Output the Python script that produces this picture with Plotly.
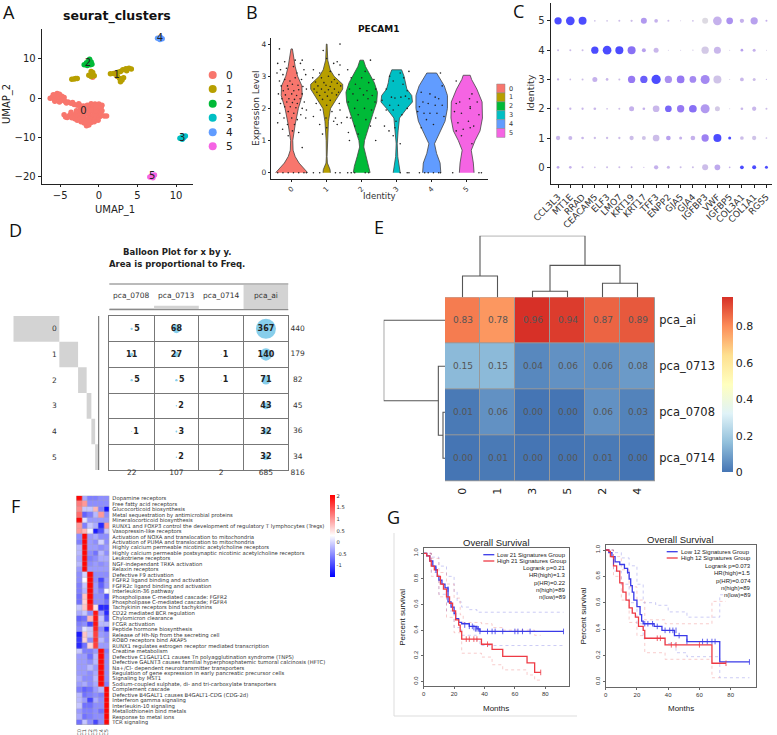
import plotly.graph_objects as go

W, H = 777, 735
SANS = "DejaVu Sans"
ARIAL = "Liberation Sans"
GG = ["#F8766D", "#B79F00", "#00BA38", "#00BFC4", "#619CFF", "#F564E3"]

# ---------- A: UMAP
umap_0 = [(-6.3,0),(-6,.3),(-5.8,-.3),(-5.6,.8),(-5.4,1.2),(-5.1,1),(-5.3,.2),(-5,-.3),(-4.8,.5),(-4.5,.2),(-4.6,-.5),(-5.1,-1),(-4.4,-.8),
 (-4,-1),(-3.6,-1.3),(-3.2,-1.6),(-2.8,-1.8),(-2.4,-1.9),(-2,-2),(-1.6,-2.2),(-4.5,-4.2),(-4.3,-4.8),(-3.8,-4.4),(-3.3,-4.6),(-3,-4),(-2.7,-4.6),
 (-2.4,-3.8),(-2,-4.8),(-1.8,-4),(-1.5,-3),(-1.2,-2),(-1,-1.4),(-.5,-1.5),(0,-1.5),(.4,-1.8),(-.7,-2.5),(-.2,-2.6),(.2,-2.8),(-1.2,-3.4),(-.7,-3.5),
 (-.2,-3.7),(.2,-3.6),(-1.3,-4.4),(-.8,-4.5),(-.3,-4.6),(.1,-4.7),(-2.5,-5.3),(-2,-5.5),(-1.5,-5.3),(-1,-5.4),(-.5,-5.5),(-.1,-5.6),(-1.9,-6.3),
 (-1.5,-6.5),(-1,-6.2),(-1.6,-7),(-2.3,-6),(-1.5,-1.8),(.7,-4.5),(1,-4.5),(-3.6,-3.6),(-2.9,-3.2),(-2.4,-2.8),(-1.9,-3.3),(-.7,-2),(0,-2.1),(-.4,-3.1),(-.8,5.3),
 (-5.9,.9),(-5.7,-.8),(-4.2,-1.2),(-3.4,-1.1),(-2.6,-1.4),(-4.1,-4.9),(-3.5,-5),(-3.1,-5.2),(-2.8,-5.6),(-1.7,-5.9),(-1.2,-5.9),(-.6,-6),(-1.3,-6.8),(-2.1,-4.4),(-1.5,-3.8),(-1,-3),(-.4,-2.1),(.3,-2.3),(.4,-3.2),(.3,-4.2),(-2.2,-3.3),(-1.7,-2.6)]
umap_1 = [(-3.5,4.8),(-3.2,4.9),(-3,5),(-2.8,5),(-1.3,5.8),(-1,5.5),(-.8,6),(-.6,5.7),(-1,6.8),(-.8,6.5),(1.5,6.2),(1.9,6.3),(2.2,6.1),(2.5,6.6),
 (2.8,6.8),(3.1,7.2),(3.5,7.5),(3.9,7.6),(4.2,7.4),(3.6,7),(2.4,5.5),(2.7,5),(3,4.6),(2.8,4.2),(3.2,5.2)]
umap_2 = [(-1.9,8.5),(-1.6,9),(-1.3,9.6),(-1,9.2),(-1.5,8.3),(-1.1,8.5),(-1.3,8.9),(-.9,8.6),(-1.2,9.9)]
umap_3 = [(10.5,-10.2),(10.8,-10.4),(11,-10),(11.2,-9.6),(10.8,-9.8)]
umap_4 = [(7.6,15.2),(8,15.4),(8.2,15.1),(7.9,14.9)]
umap_5 = [(6.6,-20),(6.9,-19.6),(7.2,-19.5),(7,-20.2),(6.8,-19.9)]
umap_labels = [(-2,-3.3),(2.3,5.8),(-1.4,8.8),(10.8,-10.2),(7.9,15.1),(6.9,-19.9)]

# ---------- B: violins (level, half width)
vio_0 = [(0,.457),(.15,.33),(.3,.21),(.5,.1),(.7,.04),(1,.03),(1.2,.05),(1.5,.1),(2,.19),(2.4,.3),(2.7,.29),(3,.17),(3.3,.1),(3.6,.05),(3.85,.02)]
vio_1 = [(0,.105),(.1,.095),(.3,.02),(.5,.01),(1,.015),(1.3,.04),(1.6,.05),(2,.11),(2.3,.29),(2.6,.457),(2.75,.457),(3,.21),(3.2,.1),(3.5,.03),(4,.01)]
vio_2 = [(0,.24),(.2,.21),(.5,.13),(.8,.06),(1,.08),(1.4,.19),(1.8,.31),(2.2,.43),(2.5,.45),(2.8,.36),(3.1,.21),(3.3,.11),(3.5,.05)]
vio_3 = [(0,.1),(.2,.08),(.5,.03),(.9,.015),(1.3,.04),(1.7,.08),(2,.29),(2.2,.45),(2.4,.43),(2.6,.29),(2.8,.24),(3,.21),(3.2,.14)]
vio_4 = [(0,.26),(.3,.24),(.6,.14),(.9,.08),(1.2,.21),(1.6,.38),(2,.45),(2.4,.45),(2.7,.36),(3,.19),(3.1,.14)]
vio_5 = [(0,.21),(.3,.19),(.7,.13),(1,.24),(1.3,.38),(1.7,.45),(2.2,.44),(2.6,.29),(2.9,.14),(3.03,.1)]
pts_0 = [(-.35,3.85),(-.2,3.45),(-.4,3.4),(.1,3.5),(.3,3.5),(.25,3.4),(-.32,3.2),(-.15,3.25),(.05,3.3),(.35,3.2),(-.42,3.1),(-.25,3.05),(.15,3.1),(.4,3.05),(-.35,2.85),(-.2,2.9),(-.05,2.85),(.1,2.95),(.28,2.9),(-.3,2.7),(-.12,2.7),(.02,2.75),(.18,2.72),(.32,2.68),(-.24,2.55),(-.1,2.6),(.06,2.55),(.2,2.58),(.42,2.6),(-.38,2.45),(-.18,2.42),(0,2.45),(.14,2.4),(.3,2.45),(-.28,2.3),(-.08,2.3),(.08,2.28),(.24,2.3),(-.32,2.15),(-.14,2.2),(.02,2.18),(.16,2.15),(.36,2.2),(-.2,2.05),(-.04,2.05),(.12,2.02),(.3,2),(.42,1.95),(-.34,1.85),(-.1,1.9),(.06,1.85),(.26,1.8),(-.22,1.7),(0,1.7),(.16,1.65),(.4,1.7),(-.4,1.55),(-.12,1.5),(.08,1.5),(-.26,1.35),(.02,1.3),(.2,1.25),(-.1,1.15),(.3,.78),(-.4,0),(-.25,0),(-.1,0),(.05,0),(.2,0),(.35,0),(.42,0)]
pts_1 = [(.38,4),(-.1,3.8),(0,3.55),(.3,3.45),(.38,3.35),(.2,3.4),(-.38,3.2),(-.2,3.1),(.1,3.15),(.35,3.05),(-.4,2.95),(-.15,2.95),(.05,3),(.22,2.9),(-.32,2.82),(-.08,2.8),(.14,2.82),(.3,2.78),(-.25,2.7),(-.02,2.72),(.1,2.68),(.4,2.7),(-.36,2.6),(-.15,2.6),(.05,2.58),(.22,2.6),(-.28,2.5),(-.05,2.5),(.15,2.48),(.34,2.5),(-.2,2.4),(.02,2.38),(.28,2.42),(-.12,2.28),(.1,2.25),(-.3,2.15),(0,2.1),(.36,2.15),(-.18,1.95),(.15,1.9),(.38,1.95),(-.38,1.75),(-.02,1.7),(.25,1.7),(-.2,1.5),(.42,1.55),(.3,1.5),(0,1.4),(-.12,1.2),(.2,1.6),(-.38,0),(-.2,0),(.25,0),(.38,0)]
pts_2 = [(.25,3.5),(-.4,3.2),(.1,3.15),(-.3,2.95),(.35,2.9),(0,2.95),(-.18,2.75),(.2,2.8),(-.35,2.6),(-.05,2.62),(.15,2.55),(.4,2.6),(-.25,2.45),(.05,2.42),(.3,2.4),(-.12,2.25),(.18,2.3),(-.38,2.2),(.38,2.2),(-.2,2),(.08,2),(.28,1.95),(-.1,1.8),(-.42,1.72),(-.32,1.7),(.12,1.65),(.4,1.7),(.25,1.45),(-.2,1.45),(-.1,1.2),(.4,1),(-.38,1.25),(-.35,1),(-.4,0),(-.3,0),(-.2,0),(.1,0),(.2,0)]
pts_3 = [(.35,3.15),(.1,3.1),(-.2,3),(.2,2.95),(-.1,2.85),(.18,2.75),(-.3,2.6),(.3,2.55),(-.15,2.35),(-.05,2.32),(.12,2.35),(.25,2.38),(.35,2.3),(-.42,2.25),(-.2,2.1),(.05,2.1),(.3,2),(-.1,1.95),(-.3,1.95),(.15,1.8),(-.35,1.45),(-.02,1.6),(-.22,1.3),(-.1,1.15),(-.05,1.4),(.1,.9),(.1,0),(.3,0),(.35,0)]
pts_4 = [(.25,3.1),(.3,2.7),(-.3,2.5),(-.05,2.45),(.1,2.35),(-.25,2.2),(-.1,2.15),(.2,2.3),(-.35,2.05),(.1,2.1),(.3,2.1),(-.4,1.9),(-.22,1.85),(-.05,1.85),(.15,1.85),(.35,1.75),(-.15,1.65),(.05,1.5),(-.3,1.4),(-.35,0),(-.2,0),(-.1,0),(.05,0),(.2,0),(.25,0)]
pts_5 = [(-.3,2.85),(.15,2.45),(-.2,2.2),(-.3,2.15),(.08,2.3),(.1,2.05),(.3,2.2),(-.35,1.9),(.1,2),(-.15,1.85),(.35,1.8),(-.25,1.55),(.05,1.6),(.2,1.45),(-.1,1.35),(-.3,1.3),(.1,1.4),(-.15,1.15),(.15,.9),(-.4,0),(.35,0),(.42,0)]

# ---------- C: dot plot
genes = ["CCL3L3","MT1E","RRAD","CEACAM5","ELF3","LMO7","KRT19","KRT17","TFF3","ENPP2","GJA5","GJA4","IGFBP3","VWF","IGFBP5","COL3A1","COL1A1","RGS5"]
dot_size_5 = [7.3,8.7,8,1.7,1.7,2,2.3,6,3.7,2,1,1.7,6,8.7,6.7,4.3,7.3,2]
dot_col_5 = [1,1,1,.25,.25,.3,.3,.55,.4,.3,.2,.3,.05,.4,.6,.4,.5,.4]
dot_size_4 = [2,2,2,7.3,8.7,8,8,4,5,1,1,1.3,7.3,7,1,2.7,3,1]
dot_col_4 = [.3,.3,.3,1,1,1,.8,.5,.35,.2,.2,.2,.2,.35,.2,.5,.4,.2]
dot_size_3 = [2.3,1.7,2,5,2.7,2,7.3,7.3,9.3,7.3,7.7,6.7,9,8,1,3.7,3,1.3]
dot_col_3 = [.35,.3,.3,.4,.35,.3,.75,.9,1,.6,.75,.65,.65,.25,.2,.35,.3,.3]
dot_size_2 = [2.3,2.3,2.3,2.7,1.7,2,5,2.7,6.7,6.7,7.3,7.7,9,5,1,2.7,4.3,2]
dot_col_2 = [.35,.35,.35,.35,.3,.3,.4,.4,.35,.85,.75,.8,.55,.2,.2,.35,.35,.3]
dot_size_1 = [4.3,4,2.7,2.3,2.3,2.3,4.3,4,6.7,4.7,3,4.7,7.3,8,3,3.7,4.3,1.7]
dot_col_1 = [.35,.35,.35,.3,.3,.3,.3,.25,.3,.5,.4,.4,.7,1,1,.3,.25,.3]
dot_size_0 = [2.7,2.7,2,1.7,2,2,2,1.3,4.3,3,2,2,6,5.7,1.7,3.7,4,3]
dot_col_0 = [.45,.4,.35,.3,.3,.3,.3,.3,.4,.35,.3,.3,.3,.45,.4,1,1,1]

# ---------- D: balloon plot
balloon_cols = ["pca_0708","pca_0713","pca_0714","pca_ai"]
balloon_rows = ["0","1","2","3","4","5"]
freq_0708 = [5,11,5,0,1,0]
freq_0713 = [68,27,5,2,3,2]
freq_0714 = [0,1,1,0,0,0]
freq_ai = [367,140,71,43,32,32]
row_totals = [440,179,82,45,36,34]
col_totals = [22,107,2,685]
grand_total = 816

# ---------- E: clustered heatmap
e_cols = ["0","1","3","5","2","4"]
e_rows = ["pca_ai","pca_0713","pca_0708","pca_0714"]
e_ai = [.83,.78,.96,.94,.87,.89]
e_0713 = [.15,.15,.04,.06,.06,.08]
e_0708 = [.01,.06,0,0,.06,.03]
e_0714 = [0,.01,0,0,.01,0]
e_scale = ["#4575B4","#91BFDB","#E0F3F8","#FFFFBF","#FEE090","#FC8D59","#D73027"]
col_links = [(0,0,1,0,64),(2,0,3,0,18),(4,0,5,0,42),(2.5,18,4.5,42,96),(.5,64,3.5,96,185)]
row_links = [(2,0,3,0,6),(1,0,2.5,6,20),(0,0,1.75,20,184)]

# ---------- F: pathway heatmap
f_labels = ["Dopamine receptors","Free fatty acid receptors","Glucocorticoid biosynthesis","Metal sequestration by antimicrobial proteins","Mineralocorticoid biosynthesis",
"RUNX1 and FOXP3 control the development of regulatory T lymphocytes (Tregs)","Vasopressin-like receptors","Activation of NOXA and translocation to mitochondria","Activation of PUMA and translocation to mitochondria",
"Highly calcium permeable nicotinic acetylcholine receptors","Highly calcium permeable postsynaptic nicotinic acetylcholine receptors","Leukotriene receptors","NGF-independant TRKA activation","Relaxin receptors",
"Defective F9 activation","FGFR2 ligand binding and activation","FGFR2c ligand binding and activation","Interleukin-36 pathway","Phospholipase C-mediated cascade: FGFR2","Phospholipase C-mediated cascade; FGFR4",
"Tachykinin receptors bind tachykinins","CD22 mediated BCR regulation","Chylomicron clearance","FCGR activation","Peptide hormone biosynthesis","Release of Hh-Np from the secreting cell","ROBO receptors bind AKAP5",
"RUNX1 regulates estrogen receptor mediated transcription","Creatine metabolism","Defective C1GALT1C1 causes Tn polyagglutination syndrome (TNPS)","Defective GALNT3 causes familial hyperphosphatemic tumoral calcinosis (HFTC)",
"Na+/Cl- dependent neurotransmitter transporters","Regulation of gene expression in early pancreatic precursor cells","Signaling by MST1","Sodium-coupled sulphate, di- and tri-carboxylate transporters",
"Complement cascade","Defective B4GALT1 causes B4GALT1-CDG (CDG-2d)","Interferon gamma signaling","Interleukin-10 signaling","Metallothionein bind metals","Response to metal ions","TCR signaling"]
f_cols = ["C0","C1","C2","C3","C4","C5"]
f_values = [[2,-.3,-.6,-.6,-.5,-.5],[1.2,1,-.5,-.5,-.5,-.5],[1.1,-.1,-.1,.8,-.6,-1.4],[1.3,-.8,-.6,-.2,1,-.5],[2,.1,-.4,-.4,-.4,-.4],[1,-.6,-.1,-.3,-1.2,1],[1,.8,.2,-1.3,-.9,-.1],
[-.5,2,-.4,-.3,-.5,-.5],[-.6,2,-.4,-.5,0,-.5],[-.2,2,-.4,-.4,-.5,-.4],[-.2,2,-.5,-.7,-.2,-.5],[-.3,2,-.6,-.5,-.3,-.3],[-.2,2,-.5,-.4,-.5,-.4],[-.4,2,-.4,-.4,-.4,-.4],
[-.5,0,2,-.5,-.5,-.5],[-.5,.3,2,-.5,-1,-.4],[-.6,-.1,2,-.4,-.8,-.4],[-.6,-.2,2,-.4,-.6,.3],[-.7,.7,2,-.5,-.5,-.9],[-.7,.6,2,-.5,-.5,-.7],[-.1,.7,1.8,.5,-1.2,-1.2],
[-.3,-.1,-.5,1.9,-.4,-1.2],[-.8,-.7,.8,1.9,-.1,-.9],[-.6,-.5,-1,1.9,-.2,-.2],[-.5,.1,-.1,1.8,-.5,-1.2],[-1.3,.7,-.1,1.6,-.4,-.5],[-1.1,.6,-.5,1.7,-.2,-.5],[-1.2,-.7,.6,1.6,-.4,-.4],
[-.1,-.6,-.6,-.4,2,-.6],[-.4,-.4,-.7,-.2,2,-.5],[-.4,-.4,-.5,-.2,2,-.5],[-.4,-.4,-.2,-.4,2,-.5],[-.4,-.4,-.5,-.3,2,-.5],[-.3,-.5,-.5,-.2,2,-.5],[-.4,-.3,-.5,-.3,2,-.6],
[-.6,-.8,-.7,-.4,-.2,2],[-.2,-.7,-.6,-.5,-.6,2],[-.2,-.4,-1,-.3,-.5,2],[-.1,-.7,-.7,-.5,-.5,2],[-.4,-.6,-.6,-.5,-.7,2],[-.3,-.7,-.6,-.5,-.5,2],[-.7,-.1,-.5,-1,-.5,2]]

# ---------- G: survival
g1_low = [(0,1),(2,.98),(4,.94),(6,.9),(8,.87),(9,.82),(10,.79),(12,.76),(14,.73),(16,.62),(18,.58),(20,.53),(21,.49),(23,.46),(25,.45),(30,.43),(35,.41),(37,.39),(92,.39)]
g1_high = [(0,1),(2,.98),(4,.94),(5,.9),(7,.87),(9,.82),(11,.76),(13,.72),(15,.66),(17,.61),(19,.55),(21,.48),(23,.44),(24,.39),(25,.33),(38,.29),(45,.25),(52,.195),(68,.145),(73,.07),(77,.07)]
g1_low_up = [(0,1),(5,.97),(10,.9),(15,.82),(20,.7),(22,.62),(25,.58),(30,.56),(35,.54),(92,.54)]
g1_low_lo = [(0,1),(5,.85),(10,.68),(15,.55),(20,.42),(25,.36),(35,.32),(37,.28),(92,.28)]
g1_high_up = [(0,1),(5,.96),(10,.85),(15,.76),(20,.65),(24,.52),(26,.46),(38,.45),(45,.42),(52,.4),(73,.36),(77,.36)]
g1_high_lo = [(0,1),(5,.82),(10,.66),(15,.5),(20,.38),(25,.22),(38,.19),(45,.13),(52,.09),(68,.05),(73,.01),(77,.01)]
g1_low_cens_t = [8,16,27,30,32,33,34,35,36,37,42,45,47,52,60,62,65,70,92]
g1_low_cens_s = [.87,.72,.44,.43,.43,.42,.41,.41,.41,.39,.39,.39,.39,.39,.39,.39,.39,.39,.39]
g1_high_cens_t = [28,30,33,35,42,77]
g1_high_cens_s = [.33,.33,.33,.33,.29,.07]
g1_text = ["Logrank p=0.21","HR(high)=1.3","p(HR)=0.22","n(high)=89","n(low)=89"]
g2_low = [(0,1),(2,.98),(4,.95),(6,.91),(9,.89),(12,.86),(14,.83),(15,.78),(16,.73),(17,.68),(18,.62),(20,.57),(22,.51),(23,.46),(24,.44),(31,.42),(36,.39),(44,.35),(52,.305),(73,.15),(92,.15)]
g2_high = [(0,1),(2,.99),(3,.95),(5,.88),(7,.84),(9,.75),(11,.68),(13,.62),(15,.56),(17,.52),(19,.49),(21,.42),(24,.39),(25,.33),(38,.28),(68,.14),(77,.14)]
g2_low_up = [(0,1),(5,.98),(10,.94),(15,.88),(20,.74),(24,.6),(32,.58),(40,.53),(52,.49),(73,.66),(76,.66)]
g2_low_lo = [(0,1),(5,.84),(10,.74),(15,.6),(20,.44),(24,.33),(38,.29),(45,.22),(52,.19),(73,.03),(92,.03)]
g2_high_up = [(0,1),(5,.95),(10,.85),(15,.72),(20,.62),(25,.47),(38,.44),(68,.61),(77,.61)]
g2_high_lo = [(0,1),(5,.8),(10,.62),(15,.45),(20,.35),(25,.22),(38,.17),(68,.03),(73,.03)]
g2_low_cens_t = [5,14,25,27,30,33,38,41,43,45,47,52,62,65,68,70,92]
g2_low_cens_s = [.91,.84,.44,.44,.44,.42,.39,.39,.39,.39,.35,.305,.305,.305,.305,.305,.15]
g2_high_cens_t = [33,35,42,45,60,77]
g2_high_cens_s = [.33,.33,.28,.28,.28,.14]
g2_text = ["Logrank p=0.073","HR(high)=1.5","p(HR)=0.074","n(high)=89","n(low)=89"]

fig = go.Figure()
layout = dict(width=W, height=H, margin=dict(l=0, r=0, t=0, b=0, pad=0, autoexpand=False), autosize=False, showlegend=False,
              paper_bgcolor="white", plot_bgcolor="rgba(0,0,0,0)", font=dict(family=SANS, color="#222"))
annotations, shapes = [], []
n_axes = [0]


def axes(x0, x1, y0, y1, xr, yr, xa=None, ya=None):
    n_axes[0] += 1
    i = n_axes[0]
    base = dict(showgrid=False, zeroline=False, showline=False, ticks="", showticklabels=False, layer="above traces")
    xd = dict(base, domain=[x0 / W, x1 / W], range=xr, anchor=f"y{i}")
    yd = dict(base, domain=[1 - y1 / H, 1 - y0 / H], range=yr, anchor=f"x{i}")
    xd.update(xa or {})
    yd.update(ya or {})
    layout[f"xaxis{i}"] = xd
    layout[f"yaxis{i}"] = yd
    return dict(xaxis=f"x{i}", yaxis=f"y{i}")


def note(x, y, text, size=10, color="#222", anchor="center", family=SANS, angle=0):
    annotations.append(dict(x=x / W, y=1 - y / H, xref="paper", yref="paper", text=text, showarrow=False,
                            font=dict(size=size, color=color, family=family), xanchor=anchor, yanchor="middle",
                            textangle=angle, borderpad=0, borderwidth=0))


def rect(x0, y0, x1, y1, fill=None, line=None, width=1, layer="above"):
    shapes.append(dict(type="rect", xref="paper", yref="paper", x0=x0 / W, x1=x1 / W, y0=1 - y0 / H, y1=1 - y1 / H,
                       fillcolor=fill or "rgba(0,0,0,0)", line=dict(color=line or "rgba(0,0,0,0)", width=width if line else 0), layer=layer))


def hline(x0, y0, x1, y1, color="#555", width=1):
    shapes.append(dict(type="line", xref="paper", yref="paper", x0=x0 / W, x1=x1 / W, y0=1 - y0 / H, y1=1 - y1 / H,
                       line=dict(color=color, width=width)))


for t, x, y in [("A", 9, 12), ("B", 252, 12), ("C", 518, 11), ("D", 15, 230), ("E", 379, 227), ("F", 15, 506), ("G", 393, 517)]:
    note(x, y, t, size=18, color="#111", family="Open Sans")

# ---------- A
ax_line = dict(showline=True, linecolor="#222", linewidth=1, ticks="outside", ticklen=3, tickcolor="#222", showticklabels=True)
a = axes(41.7, 192.7, 29.3, 184, [-7.4, 12.15], [-21.8, 17.5],
         dict(ax_line, tickvals=[-5, 0, 5, 10], ticklen=2, tickfont=dict(size=10, color="#222")),
         dict(ax_line, tickvals=[-20, -10, 0, 10], tickfont=dict(size=10, color="#222")))
for pts, c in zip([umap_0, umap_1, umap_2, umap_3, umap_4, umap_5], GG):
    fig.add_trace(go.Scatter(x=[p[0] for p in pts], y=[p[1] for p in pts], mode="markers",
                             marker=dict(size=5.5, color=c, line=dict(width=0)), **a))
fig.add_trace(go.Scatter(x=[p[0] for p in umap_labels], y=[p[1] for p in umap_labels], mode="text",
                         text=["0", "1", "2", "3", "4", "5"], textfont=dict(size=10, color="#222"), **a))
note(116.7, 16, "<b>seurat_clusters</b>", size=12.5, color="#111")
note(115, 210, "UMAP_1", size=10)
note(7, 104, "UMAP_2", size=10, angle=-90)
for i, (c, y) in enumerate(zip(GG, [75, 89, 103.7, 117.7, 132.3, 146.3])):
    shapes.append(dict(type="circle", xref="paper", yref="paper", x0=208.7 / W, x1=216.7 / W, y0=1 - (y + 4) / H, y1=1 - (y - 4) / H,
                       fillcolor=c, line=dict(width=0)))
    note(229, y, str(i), size=10.5)

# ---------- B
b = axes(270.7, 487.7, 38.3, 179, [-.6, 5.6], [-.196, 4.18],
         dict(ax_line, tickvals=[0, 1, 2, 3, 4, 5], ticktext=["0", "1", "2", "3", "4", "5"], tickangle=-45, ticklen=2, tickfont=dict(size=7, color="#333")),
         dict(ax_line, tickvals=[0, 1, 2, 3, 4], ticklen=2, tickfont=dict(size=7.5, color="#333")))
for k, (prof, pts, c) in enumerate(zip([vio_0, vio_1, vio_2, vio_3, vio_4, vio_5], [pts_0, pts_1, pts_2, pts_3, pts_4, pts_5], GG)):
    xs = [k - p[1] for p in prof] + [k + p[1] for p in reversed(prof)]
    ys = [p[0] for p in prof] + [p[0] for p in reversed(prof)]
    fig.add_trace(go.Scatter(x=xs, y=ys, mode="lines", fill="toself", fillcolor=c, line=dict(color="#444", width=.8), **b))
    fig.add_trace(go.Scatter(x=[k + p[0] for p in pts], y=[p[1] for p in pts], mode="markers",
                             marker=dict(size=1.6, color="#222", line=dict(width=0)), **b))
note(379, 29, "<b>PECAM1</b>", size=9, color="#111")
note(379, 196, "Identity", size=8.5, color="#333")
note(256, 109, "Expression Level", size=9, color="#333", angle=-90)
for i, c in enumerate(GG):
    rect(496.7, 84 + i * 8.9, 505, 84 + (i + 1) * 8.9, fill=c, line="#888", width=.5)
    note(509, 88.5 + i * 8.9, str(i), size=6.5, anchor="left", color="#333")

# ---------- C
c_ax = axes(550.7, 771.7, 3.3, 184.3, [-.6, 17.43], [-.58, 5.6],
            dict(ax_line, tickvals=list(range(18)), ticktext=genes, tickangle=-45, tickfont=dict(size=9, color="#333")),
            dict(ax_line, tickvals=[0, 1, 2, 3, 4, 5], tickfont=dict(size=10, color="#333")))
for row, sz, col in [(5, dot_size_5, dot_col_5), (4, dot_size_4, dot_col_4), (3, dot_size_3, dot_col_3),
                     (2, dot_size_2, dot_col_2), (1, dot_size_1, dot_col_1), (0, dot_size_0, dot_col_0)]:
    fig.add_trace(go.Scatter(x=list(range(18)), y=[row] * 18, mode="markers",
                             marker=dict(size=sz, color=col, cmin=0, cmax=1,
                                         colorscale=[[0, "#D3D3D3"], [.4, "#AD90E4"], [.75, "#6A40EE"], [1, "#0000FF"]], line=dict(width=0)), **c_ax))
note(531, 93, "Identity", size=9.5, color="#333", angle=-90)

# ---------- D
note(176.7, 252, "<b>Balloon Plot for x by y.</b>", size=8.5, color="#222")
note(176.7, 263.7, "<b>Area is proportional to Freq.</b>", size=8.5, color="#222")
hline(109.3, 284, 288.3, 284, "#777", 1)
hline(109.3, 309.7, 288.3, 309.7, "#777", 1)
hline(98.7, 316, 98.7, 470, "#666", 1)
d_top = axes(109.3, 288.3, 285, 309.7, [-.5, 3.5], [0, 685])
fig.add_trace(go.Bar(x=[0, 1, 2, 3], y=col_totals, width=1, marker=dict(color="#D3D3D3", line=dict(width=0)), **d_top))
for i, c in enumerate(balloon_cols):
    note(109.3 + 44.75 * (i + .5), 295.7, c, size=7.5, color="#333")
d_left = axes(13.3, 98.7, 316, 470, [0, grand_total], [5.5, -.5])
base, bx = 0, []
for t in row_totals:
    bx.append(base)
    base += t
fig.add_trace(go.Bar(y=list(range(6)), x=row_totals, base=bx, orientation="h", width=1,
                     marker=dict(color="#D3D3D3", line=dict(width=0)), **d_left))
for i, r in enumerate(balloon_rows):
    note(54, 328.8 + i * 25.67, r, size=7.5, color="#333")
d_ax = axes(109.3, 288.3, 316, 470, [-.5, 3.5], [5.5, -.5],
            dict(showgrid=True, gridcolor="#777", gridwidth=1, tickvals=[-.5, .5, 1.5, 2.5, 3.5], showline=True, mirror=True, linecolor="#777"),
            dict(showgrid=True, gridcolor="#777", gridwidth=1, tickvals=[-.5, .5, 1.5, 2.5, 3.5, 4.5, 5.5], showline=True, mirror=True, linecolor="#777"))
for j, col in enumerate([freq_0708, freq_0713, freq_0714, freq_ai]):
    for i, v in enumerate(col):
        if v == 0:
            continue
        fig.add_trace(go.Scatter(x=[j], y=[i], mode="markers+text", text=[f"<b>{v}</b>"],
                                 textposition="middle right" if v < 10 else "middle center",
                                 textfont=dict(size=8, color="#222"),
                                 marker=dict(size=20 * (v / 367) ** .5, color="#87CEEB", line=dict(width=0)), **d_ax))
d_tot = axes(109.3, 310, 316, 480, [-.5, 3.985], [5.89, -.5])
fig.add_trace(go.Scatter(x=[3.71] * 6, y=list(range(6)), mode="text", text=[str(v) for v in row_totals],
                         textfont=dict(size=7.5, color="#333"), **d_tot))
fig.add_trace(go.Scatter(x=[0, 1, 2, 3, 3.71], y=[5.61] * 5, mode="text", text=[str(v) for v in col_totals + [grand_total]],
                         textfont=dict(size=7.5, color="#333"), **d_tot))

# ---------- E
e_z = [e_ai, e_0713, e_0708, e_0714]
rect(445, 297.3, 655, 481.3, fill="#999", layer="below")
e_ax = axes(445, 655, 297.3, 481.3, [-.5, 5.5], [3.5, -.5],
            dict(tickvals=list(range(6)), ticktext=e_cols, showticklabels=True, tickangle=-90, ticks="outside", ticklen=1, tickcolor="rgba(0,0,0,0)", tickfont=dict(size=11, color="#222")),
            dict(tickvals=list(range(4)), ticktext=e_rows, showticklabels=True, side="right", ticks="outside", ticklen=1, tickcolor="rgba(0,0,0,0)", tickfont=dict(size=11.5, color="#222")))
fig.add_trace(go.Heatmap(z=e_z, text=[[f"{v:.2f}" for v in r] for r in e_z], texttemplate="%{text}", textfont=dict(size=9, color="#555"),
                         zmin=0, zmax=.96, xgap=1, ygap=1, colorscale=[[i / 6, c] for i, c in enumerate(e_scale)],
                         colorbar=dict(x=721.7 / W, xanchor="left", xref="paper", y=1 - 297.3 / H, yanchor="top", yref="paper", len=175.4, lenmode="pixels",
                                       thickness=11, thicknessmode="pixels", outlinewidth=0, xpad=0, ypad=0, ticks="", tickvals=[0, .2, .4, .6, .8],
                                       ticktext=["0", "0.2", "0.4", "0.6", "0.8"], tickfont=dict(size=11, color="#222")), **e_ax))
e_top = axes(445, 655, 235.7, 297.3, [-.5, 5.5], [0, 185])
lx, ly = [], []
for x1, h1, x2, h2, top in col_links:
    lx += [x1, x1, x2, x2, None]
    ly += [h1, top, top, h2, None]
fig.add_trace(go.Scatter(x=lx, y=ly, mode="lines", line=dict(color="#555", width=1.1), cliponaxis=False, **e_top))
e_left = axes(383.7, 445, 297.3, 481.3, [184, 0], [3.5, -.5])
lx, ly = [], []
for y1, h1, y2, h2, top in row_links:
    lx += [h1, top, top, h2, None]
    ly += [y1, y1, y2, y2, None]
fig.add_trace(go.Scatter(x=lx, y=ly, mode="lines", line=dict(color="#555", width=1.1), cliponaxis=False, **e_left))

# ---------- F
f_scale = [[0, "#0000FF"], [.507, "#FFFFFF"], [1, "#FF0000"]]
rect(76.3, 495.7, 109.3, 725, fill="#aaa", layer="below")
f_ax = axes(76.3, 109.3, 495.7, 725, [-.5, 5.5], [41.5, -.5],
            dict(tickvals=list(range(6)), ticktext=f_cols, showticklabels=True, tickangle=-90, ticks="outside", ticklen=1, tickcolor="rgba(0,0,0,0)", tickfont=dict(size=5, color="#444")),
            dict(tickvals=list(range(42)), ticktext=f_labels, showticklabels=True, side="right", ticks="outside", ticklen=1, tickcolor="rgba(0,0,0,0)", tickfont=dict(size=5.3, color="#333")))
fig.add_trace(go.Heatmap(z=f_values, zmin=-1.49, zmax=2.04, xgap=.3, ygap=.3, colorscale=f_scale,
                         colorbar=dict(x=329.7 / W, xanchor="left", xref="paper", y=1 - 495 / H, yanchor="top", yref="paper", len=82.3, lenmode="pixels",
                                       thickness=5.3, thicknessmode="pixels", outlinewidth=0, xpad=0, ypad=0, ticks="", tickvals=[-1, -.5, 0, .5, 1, 1.5, 2],
                                       ticktext=["-1", "-0.5", "0", "0.5", "1", "1.5", "2"], tickfont=dict(size=5.2, color="#333")), **f_ax))

# ---------- G
hline(394, 533, 394, 716, "#ddd", 1)
hline(394, 716, 577, 716, "#ddd", 1)


def km(box, xmax, ymin, ymax, low, high, lu, ll, hu, hl, lct, lcs, hct, hcs, labels, nsig, ttl_y, leg, txt_right, ly0, row0, row_gap):
    x0, x1, y0, y1 = box
    g_ax = dict(showline=True, mirror=True, linecolor="#666", linewidth=1, ticks="outside", ticklen=2, tickcolor="#666", showticklabels=True)
    g = axes(x0, x1, y0, y1, [0, xmax], [ymin, ymax],
             dict(g_ax, tickvals=[0, 20, 40, 60, 80], tickfont=dict(size=6, color="#333", family=ARIAL)),
             dict(g_ax, tickvals=[0, .2, .4, .6, .8, 1], ticktext=["0.0", "0.2", "0.4", "0.6", "0.8", "1.0"], tickangle=-90, tickfont=dict(size=6, color="#333", family=ARIAL)))
    for pts, color in [(lu, "rgba(110,110,225,.35)"), (ll, "rgba(110,110,225,.35)"), (hu, "rgba(235,110,110,.35)"), (hl, "rgba(235,110,110,.35)")]:
        fig.add_trace(go.Scatter(x=[p[0] for p in pts], y=[p[1] for p in pts], mode="lines",
                                 line=dict(color=color, width=1, dash="dot", shape="hv"), **g))
    for pts, color in [(low, "#3A3AE8"), (high, "#EE3A44")]:
        fig.add_trace(go.Scatter(x=[p[0] for p in pts], y=[p[1] for p in pts], mode="lines",
                                 line=dict(color=color, width=1.3, shape="hv"), **g))
    for t, s, color in [(lct, lcs, "#3A3AE8"), (hct, hcs, "#EE3A44")]:
        fig.add_trace(go.Scatter(x=t, y=s, mode="markers", marker=dict(symbol="line-ns", size=4, line=dict(color=color, width=.8)), **g))
    cx = (x0 + x1) / 2
    note(cx, ttl_y, "Overall Survival", size=9.5, color="#222", family=ARIAL)
    note(cx, 708, "Months", size=8, color="#222", family=ARIAL)
    note(x0 - 22, (y0 + y1) / 2, "Percent survival", size=8, color="#222", family=ARIAL, angle=-90)
    hline(leg, ly0, leg + 11, ly0, "#3A3AE8", 1.3)
    hline(leg, ly0 + 6.3, leg + 11, ly0 + 6.3, "#EE3A44", 1.3)
    note(leg + 14, ly0, f"Low {nsig} Signatures Group", size=6, color="#222", anchor="left", family=ARIAL)
    note(leg + 14, ly0 + 6.3, f"High {nsig} Signatures Group", size=6, color="#222", anchor="left", family=ARIAL)
    for i, t in enumerate(labels):
        note(txt_right, row0 + i * row_gap, t, size=6, color="#222", anchor="right", family=ARIAL)


km((423.7, 569, 548.3, 686), 95.6, -.036, 1.039, g1_low, g1_high, g1_low_up, g1_low_lo, g1_high_up, g1_high_lo,
   g1_low_cens_t, g1_low_cens_s, g1_high_cens_t, g1_high_cens_s, g1_text, 21, 542.5, 483.3, 566, 554.7, 568, 7.25)
km((605.7, 755.7, 545, 686.7), 96, -.038, 1.038, g2_low, g2_high, g2_low_up, g2_low_lo, g2_high_up, g2_high_lo,
   g2_low_cens_t, g2_low_cens_s, g2_high_cens_t, g2_high_cens_s, g2_text, 12, 539, 666.7, 751, 551.7, 565.7, 7.4)

layout["annotations"] = annotations
layout["shapes"] = shapes
fig.update_layout(**layout)
fig.write_html("out.html", post_script="document.body.style.margin='0';", config={"displayModeBar": False})
